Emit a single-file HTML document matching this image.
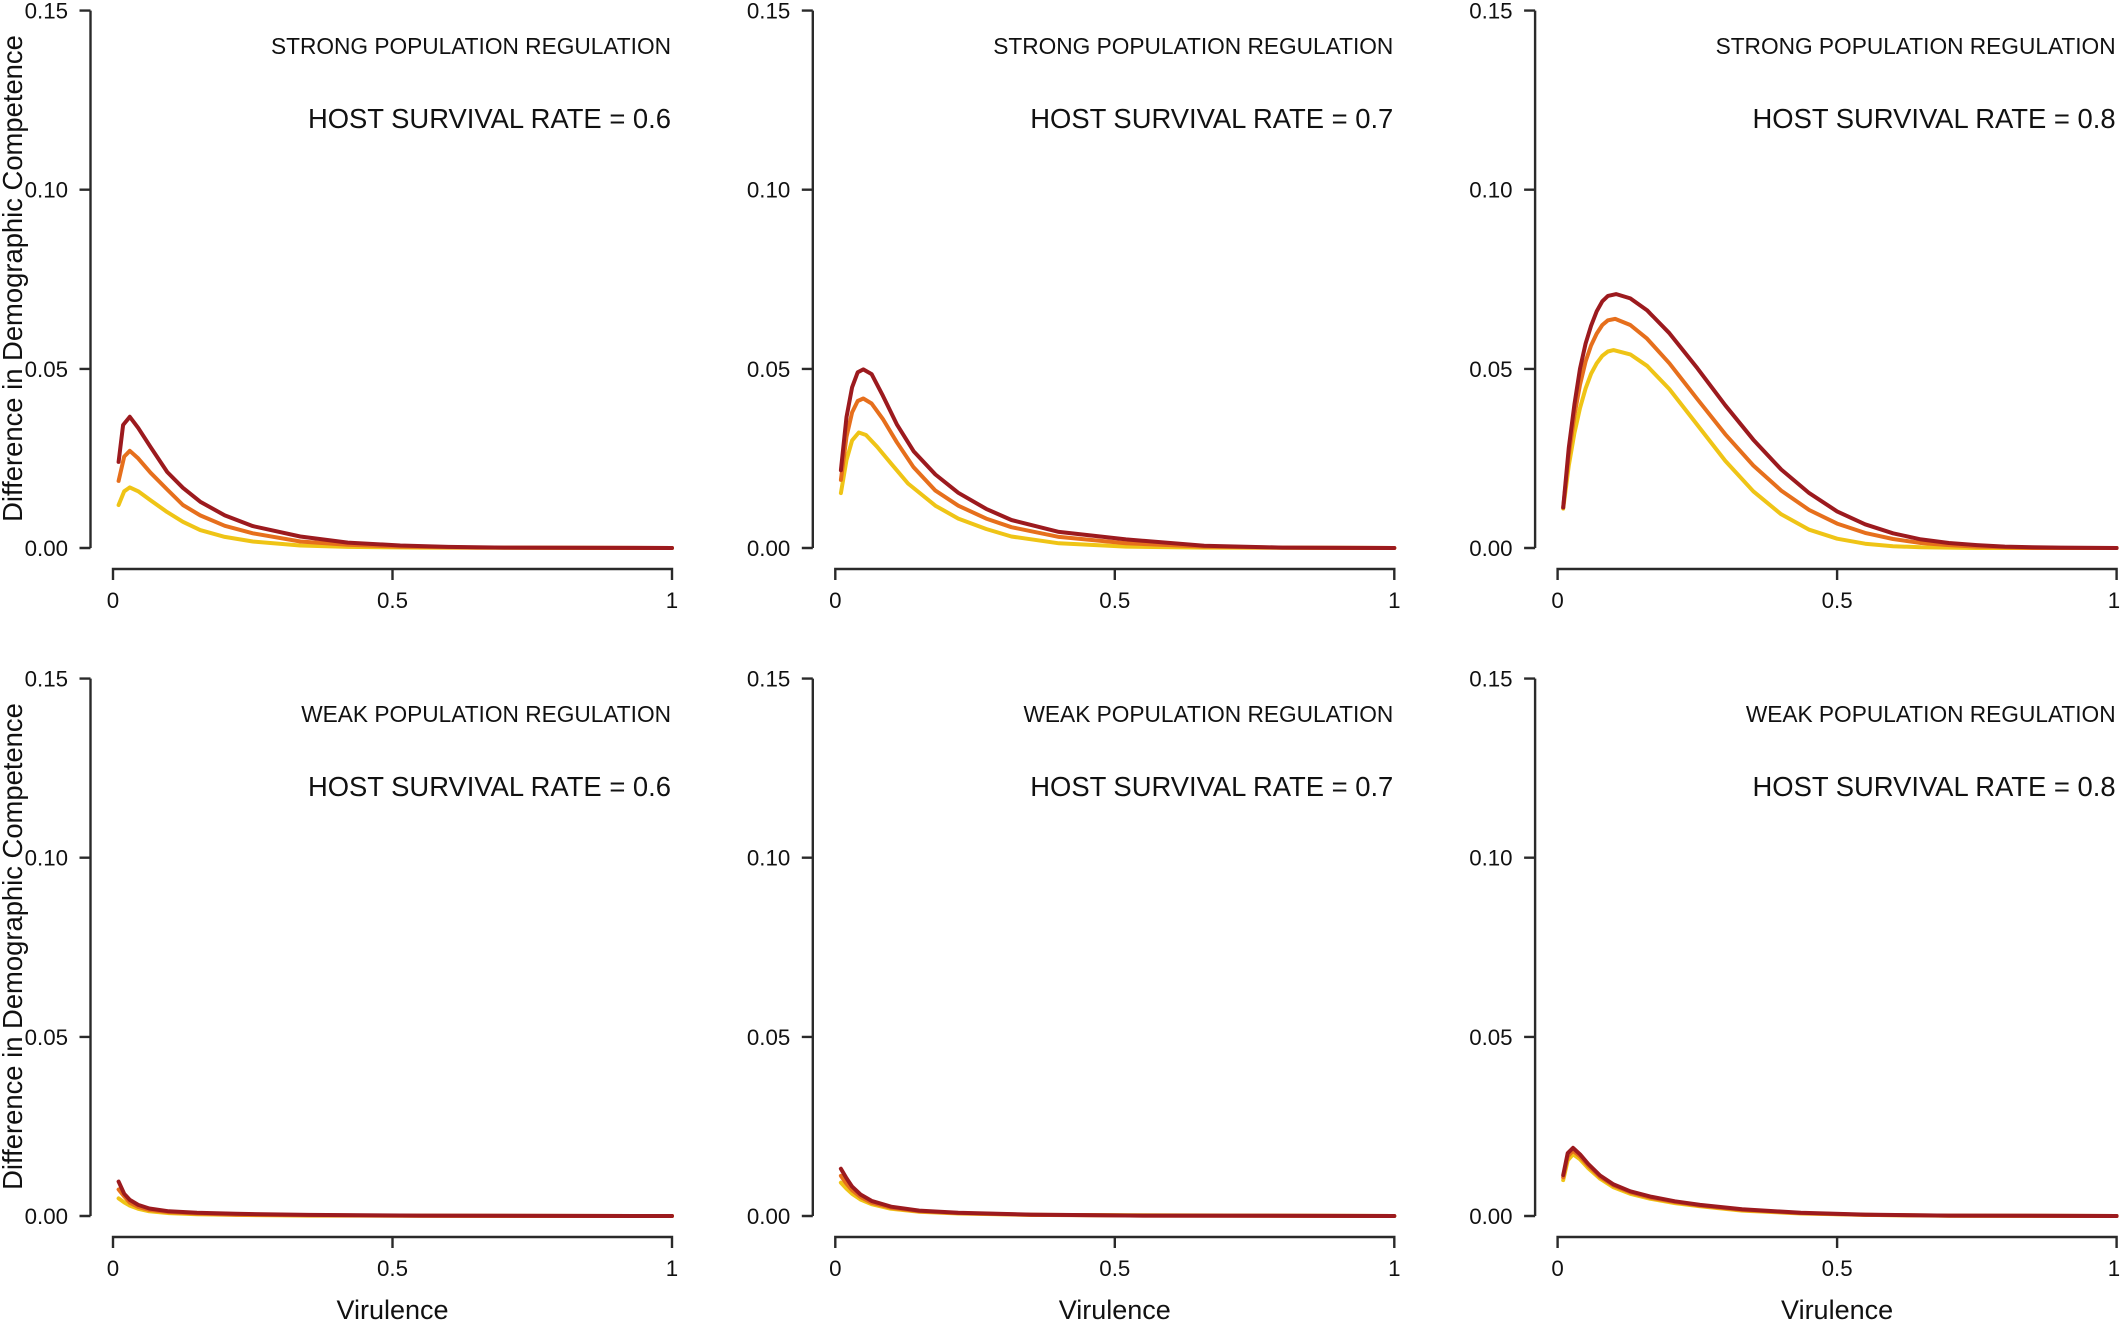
<!DOCTYPE html>
<html>
<head>
<meta charset="utf-8">
<style>
html,body{margin:0;padding:0;background:#fff;}
svg{display:block;}
text{font-family:"Liberation Sans",Arial,Helvetica,sans-serif;fill:#111;}
.ax{stroke:#2a2a2a;stroke-width:2.4;fill:none;}
.tk{font-size:22.3px;}
.t1{font-size:22.7px;text-anchor:end;}
.t2{font-size:27.4px;text-anchor:end;}
.lab{font-size:27.4px;text-anchor:middle;}
.lab2{font-size:27px;text-anchor:middle;}
.c{fill:none;stroke-width:4;stroke-linejoin:round;stroke-linecap:round;}
.y{stroke:#efc416;}
.o{stroke:#e66f1c;}
.r{stroke:#9c1a1e;}
</style>
</head>
<body>
<svg width="2120" height="1322" viewBox="0 0 2120 1322" xmlns="http://www.w3.org/2000/svg">
<rect width="2120" height="1322" fill="#fff"/>

<!-- Y axis labels -->
<text class="lab" transform="translate(22,278.5) rotate(-90)">Difference in Demographic Competence</text>
<text class="lab" transform="translate(22,946.5) rotate(-90)">Difference in Demographic Competence</text>

<!-- Top row -->
<g id="p1">
<path class="ax" d="M90.5,10.6 V548 M79.5,10.6 H90.5 M79.5,189.7 H90.5 M79.5,368.9 H90.5 M79.5,548 H90.5"/>
<path class="ax" d="M113,580 V569 H672 V580 M392.5,569 V580"/>
<text class="tk" x="68" y="18.6" text-anchor="end">0.15</text>
<text class="tk" x="68" y="197.7" text-anchor="end">0.10</text>
<text class="tk" x="68" y="376.9" text-anchor="end">0.05</text>
<text class="tk" x="68" y="556" text-anchor="end">0.00</text>
<text class="tk" x="113" y="608" text-anchor="middle">0</text>
<text class="tk" x="392.5" y="608" text-anchor="middle">0.5</text>
<text class="tk" x="672" y="608" text-anchor="middle">1</text>
<text class="t1" x="671" y="54">STRONG POPULATION REGULATION</text>
<text class="t2" x="671" y="128">HOST SURVIVAL RATE = 0.6</text>
</g>

<g id="p2">
<path class="ax" d="M812.8,10.6 V548 M801.8,10.6 H812.8 M801.8,189.7 H812.8 M801.8,368.9 H812.8 M801.8,548 H812.8"/>
<path class="ax" d="M835.3,580 V569 H1394.3 V580 M1114.8,569 V580"/>
<text class="tk" x="790.3" y="18.6" text-anchor="end">0.15</text>
<text class="tk" x="790.3" y="197.7" text-anchor="end">0.10</text>
<text class="tk" x="790.3" y="376.9" text-anchor="end">0.05</text>
<text class="tk" x="790.3" y="556" text-anchor="end">0.00</text>
<text class="tk" x="835.3" y="608" text-anchor="middle">0</text>
<text class="tk" x="1114.8" y="608" text-anchor="middle">0.5</text>
<text class="tk" x="1394.3" y="608" text-anchor="middle">1</text>
<text class="t1" x="1393.3" y="54">STRONG POPULATION REGULATION</text>
<text class="t2" x="1393.3" y="128">HOST SURVIVAL RATE = 0.7</text>
</g>

<g id="p3">
<path class="ax" d="M1535.1,10.6 V548 M1524.1,10.6 H1535.1 M1524.1,189.7 H1535.1 M1524.1,368.9 H1535.1 M1524.1,548 H1535.1"/>
<path class="ax" d="M1557.6,580 V569 H2116.6 V580 M1837.1,569 V580"/>
<text class="tk" x="1512.6" y="18.6" text-anchor="end">0.15</text>
<text class="tk" x="1512.6" y="197.7" text-anchor="end">0.10</text>
<text class="tk" x="1512.6" y="376.9" text-anchor="end">0.05</text>
<text class="tk" x="1512.6" y="556" text-anchor="end">0.00</text>
<text class="tk" x="1557.6" y="608" text-anchor="middle">0</text>
<text class="tk" x="1837.1" y="608" text-anchor="middle">0.5</text>
<text class="tk" x="2114" y="608" text-anchor="middle">1</text>
<text class="t1" x="2115.6" y="54">STRONG POPULATION REGULATION</text>
<text class="t2" x="2115.6" y="128">HOST SURVIVAL RATE = 0.8</text>
</g>

<!-- Bottom row -->
<g id="p4">
<path class="ax" d="M90.5,678.6 V1216 M79.5,678.6 H90.5 M79.5,857.7 H90.5 M79.5,1036.9 H90.5 M79.5,1216 H90.5"/>
<path class="ax" d="M113,1248 V1237 H672 V1248 M392.5,1237 V1248"/>
<text class="tk" x="68" y="686.6" text-anchor="end">0.15</text>
<text class="tk" x="68" y="865.7" text-anchor="end">0.10</text>
<text class="tk" x="68" y="1044.9" text-anchor="end">0.05</text>
<text class="tk" x="68" y="1224" text-anchor="end">0.00</text>
<text class="tk" x="113" y="1276" text-anchor="middle">0</text>
<text class="tk" x="392.5" y="1276" text-anchor="middle">0.5</text>
<text class="tk" x="672" y="1276" text-anchor="middle">1</text>
<text class="lab2" x="392.5" y="1319">Virulence</text>
<text class="t1" x="671" y="722">WEAK POPULATION REGULATION</text>
<text class="t2" x="671" y="796">HOST SURVIVAL RATE = 0.6</text>
</g>

<g id="p5">
<path class="ax" d="M812.8,678.6 V1216 M801.8,678.6 H812.8 M801.8,857.7 H812.8 M801.8,1036.9 H812.8 M801.8,1216 H812.8"/>
<path class="ax" d="M835.3,1248 V1237 H1394.3 V1248 M1114.8,1237 V1248"/>
<text class="tk" x="790.3" y="686.6" text-anchor="end">0.15</text>
<text class="tk" x="790.3" y="865.7" text-anchor="end">0.10</text>
<text class="tk" x="790.3" y="1044.9" text-anchor="end">0.05</text>
<text class="tk" x="790.3" y="1224" text-anchor="end">0.00</text>
<text class="tk" x="835.3" y="1276" text-anchor="middle">0</text>
<text class="tk" x="1114.8" y="1276" text-anchor="middle">0.5</text>
<text class="tk" x="1394.3" y="1276" text-anchor="middle">1</text>
<text class="lab2" x="1114.8" y="1319">Virulence</text>
<text class="t1" x="1393.3" y="722">WEAK POPULATION REGULATION</text>
<text class="t2" x="1393.3" y="796">HOST SURVIVAL RATE = 0.7</text>
</g>

<g id="p6">
<path class="ax" d="M1535.1,678.6 V1216 M1524.1,678.6 H1535.1 M1524.1,857.7 H1535.1 M1524.1,1036.9 H1535.1 M1524.1,1216 H1535.1"/>
<path class="ax" d="M1557.6,1248 V1237 H2116.6 V1248 M1837.1,1237 V1248"/>
<text class="tk" x="1512.6" y="686.6" text-anchor="end">0.15</text>
<text class="tk" x="1512.6" y="865.7" text-anchor="end">0.10</text>
<text class="tk" x="1512.6" y="1044.9" text-anchor="end">0.05</text>
<text class="tk" x="1512.6" y="1224" text-anchor="end">0.00</text>
<text class="tk" x="1557.6" y="1276" text-anchor="middle">0</text>
<text class="tk" x="1837.1" y="1276" text-anchor="middle">0.5</text>
<text class="tk" x="2114" y="1276" text-anchor="middle">1</text>
<text class="lab2" x="1837.1" y="1319">Virulence</text>
<text class="t1" x="2115.6" y="722">WEAK POPULATION REGULATION</text>
<text class="t2" x="2115.6" y="796">HOST SURVIVAL RATE = 0.8</text>
</g>

<!-- ===== Curves ===== -->
<!-- Panel 1 -->
<polyline class="c y" points="118.6,505.0 124.2,491.3 129.8,487.4 138.2,491.3 150.5,500.3 167.2,512.1 182.9,521.8 200.2,530.1 224.8,536.9 252.8,541.5 300.3,545.5 347.8,546.9 420.5,547.6 672,548"/>
<polyline class="c o" points="118.6,480.9 124.2,456.6 129.8,450.8 138.2,458.4 150.5,472.7 167.2,489.5 182.9,505.0 200.2,515.4 224.8,525.8 252.8,533.3 300.3,541.5 347.8,544.8 400.3,546.6 476.4,547.6 672,548"/>
<polyline class="c r" points="118.6,461.9 123.1,425.0 129.8,416.8 138.2,427.9 150.5,446.9 167.2,472.0 182.9,487.8 200.2,501.7 224.8,515.4 252.8,526.1 300.3,536.5 347.8,542.6 400.3,545.5 448.4,546.9 504.3,547.6 672,548"/>

<!-- Panel 2 -->
<polyline class="c y" points="840.9,493.1 846.5,460.1 852.1,440.4 858.8,432.5 866.0,435.0 877.2,446.9 891.2,463.7 908.0,483.5 935.4,505.7 958.3,518.6 986.2,529.0 1011.4,536.5 1058.9,543.3 1126.0,546.6 1204.2,547.6 1394.3,548"/>
<polyline class="c o" points="840.9,479.9 846.5,436.8 852.1,412.4 857.7,401.0 863.3,398.5 871.6,403.5 882.8,418.9 896.8,442.2 913.6,467.3 935.4,490.6 958.3,505.7 986.2,518.6 1011.4,527.2 1058.9,536.9 1126.0,543.3 1204.2,546.6 1282.5,547.6 1394.3,548"/>
<polyline class="c r" points="840.9,470.2 846.5,417.1 852.1,387.3 857.7,372.3 863.3,369.4 871.6,374.1 882.8,395.6 896.8,424.3 913.6,451.2 935.4,474.5 958.3,492.8 986.2,508.9 1011.4,520.0 1058.9,531.9 1126.0,539.4 1204.2,545.8 1282.5,547.6 1394.3,548"/>

<!-- Panel 3 -->
<polyline class="c y" points="1563.2,508.6 1568.8,465.5 1574.4,433.2 1580.0,408.1 1585.6,388.4 1591.1,373.7 1596.7,363.3 1602.3,355.8 1607.9,351.5 1613.5,350.1 1630.3,354.4 1647.0,365.8 1669.4,389.1 1697.4,425.0 1725.3,460.9 1753.3,491.3 1781.2,514.3 1809.2,529.7 1837.1,538.7 1865.1,543.7 1893.0,546.2 1921.0,547.3 1948.9,547.6 1976.9,548 2116.6,548"/>
<polyline class="c o" points="1563.2,507.5 1568.8,454.8 1574.4,415.3 1580.0,384.8 1585.6,361.5 1591.1,345.4 1596.7,333.6 1602.3,325.0 1607.9,320.3 1615.2,318.9 1630.3,325.0 1647.0,338.6 1669.4,363.3 1697.4,399.2 1725.3,434.3 1753.3,465.5 1781.2,490.6 1809.2,510.0 1837.1,523.6 1865.1,532.9 1893.0,539.0 1921.0,543.0 1948.9,545.1 1976.9,546.6 2004.8,547.3 2032.8,548 2116.6,548"/>
<polyline class="c r" points="1563.2,507.5 1568.8,447.6 1574.4,404.6 1580.0,368.7 1585.6,343.6 1591.1,325.7 1596.7,311.3 1602.3,301.3 1607.9,295.9 1616.3,294.1 1630.3,298.4 1647.0,310.2 1669.4,333.2 1697.4,368.3 1725.3,405.3 1753.3,439.7 1781.2,469.5 1809.2,493.1 1837.1,511.4 1865.1,524.3 1893.0,533.3 1921.0,539.4 1948.9,543.0 1976.9,545.1 2004.8,546.6 2032.8,547.3 2060.7,547.6 2116.6,548"/>

<!-- Panel 4 -->
<polyline class="c y" points="118.6,1198.4 124.2,1202.4 129.8,1205.6 138.2,1208.8 149.3,1211.3 168.9,1213.1 196.9,1214.2 236.0,1214.9 308.7,1215.6 672,1216"/>
<polyline class="c o" points="118.6,1189.5 124.2,1196.3 129.8,1202.7 138.2,1207.0 149.3,1209.9 168.9,1212.1 196.9,1213.5 236.0,1214.6 308.7,1215.3 420.5,1215.8 672,1216"/>
<polyline class="c r" points="118.6,1181.6 124.2,1193.8 129.8,1199.9 138.2,1204.9 149.3,1208.5 168.9,1211.3 196.9,1212.8 236.0,1213.8 308.7,1214.9 420.5,1215.6 672,1216"/>

<!-- Panel 5 -->
<polyline class="c y" points="840.9,1182.6 846.5,1188.7 852.1,1193.8 860.5,1199.5 871.6,1204.2 891.2,1208.8 919.2,1211.7 958.3,1213.5 1031.0,1214.9 1394.3,1216"/>
<polyline class="c o" points="840.9,1175.8 846.5,1183.7 852.1,1190.2 860.5,1197.0 871.6,1202.7 891.2,1207.8 919.2,1211.3 958.3,1213.1 1031.0,1214.9 1142.8,1215.6 1394.3,1216"/>
<polyline class="c r" points="840.9,1168.7 846.5,1178.3 852.1,1186.6 860.5,1194.5 871.6,1200.9 891.2,1206.7 919.2,1210.6 958.3,1212.8 1031.0,1214.6 1142.8,1215.6 1394.3,1216"/>

<!-- Panel 6 -->
<polyline class="c y" points="1563.2,1180.1 1567.7,1160.4 1573.0,1154.3 1580.0,1159.3 1588.3,1168.3 1600.1,1178.7 1613.5,1187.3 1630.3,1193.8 1650.4,1198.8 1675.0,1203.1 1700.1,1206.3 1742.1,1210.6 1800.8,1213.5 1865.1,1214.9 1948.9,1215.8 2116.6,1216"/>
<polyline class="c o" points="1563.2,1177.3 1567.7,1156.5 1573.0,1150.7 1580.0,1156.5 1588.3,1165.8 1600.1,1176.9 1613.5,1185.5 1630.3,1192.3 1650.4,1197.7 1675.0,1202.0 1700.1,1205.6 1742.1,1209.9 1800.8,1213.1 1865.1,1214.9 1948.9,1215.6 2116.6,1216"/>
<polyline class="c r" points="1563.2,1175.1 1567.7,1153.2 1573.0,1147.9 1580.0,1154.3 1588.3,1164.0 1600.1,1175.5 1613.5,1184.4 1630.3,1191.3 1650.4,1196.6 1675.0,1201.3 1700.1,1204.9 1742.1,1209.2 1800.8,1212.8 1865.1,1214.6 1948.9,1215.6 2116.6,1216"/>
</svg>
</body>
</html>
